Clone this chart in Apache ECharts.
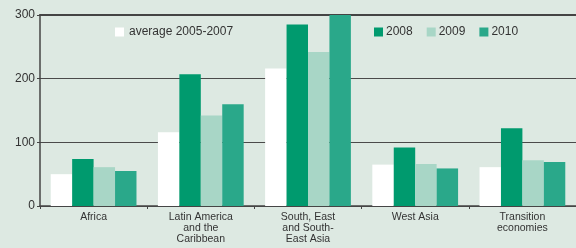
<!DOCTYPE html>
<html><head><meta charset="utf-8">
<script src="https://cdn.jsdelivr.net/npm/echarts@6/dist/echarts.min.js"></script>
<style>html,body{margin:0;padding:0;background:#dde9e2;}#c{width:576px;height:248px;}</style>
</head><body><div id="c"></div>
<script>
const categories = ['Africa', 'Latin America\nand the\nCaribbean', 'South, East\nand South-\nEast Asia', 'West Asia', 'Transition\neconomies'];
const avg0507 = [50, 116, 216, 65, 61];
const v2008 = [74, 207, 285, 92, 122];
const v2009 = [61, 142, 242, 66, 72];
const v2010 = [55, 160, 300, 59, 69];
const yTicks = [0, 100, 200, 300];

const chart = echarts.init(document.getElementById('c'));
const font = 'Liberation Sans, Arial, sans-serif';
function bar(name, data, color) {
  return {name, type: 'bar', data, barGap: '0%', barCategoryGap: '20%', itemStyle: {color}, animation: false};
}
chart.setOption({
  backgroundColor: '#dde9e2',
  animation: false,
  grid: {left: 40, right: -5, top: 15, bottom: 42},
  legend: [
    {data: ['average 2005-2007'], left: 110, top: 21, itemWidth: 9, itemHeight: 9, icon: 'rect', itemGap: 4,
     textStyle: {fontFamily: font, fontSize: 12, color: '#333'}},
    {data: ['2008', '2009', '2010'], left: 369, top: 21, itemWidth: 9, itemHeight: 9, icon: 'rect', itemGap: 14,
     textStyle: {fontFamily: font, fontSize: 12, color: '#333', padding: [0, 0, 0, -2]}}
  ],
  xAxis: [{
    type: 'category', data: categories,
    axisLine: {lineStyle: {color: '#444', width: 1.5}},
    axisTick: {show: true, length: 3, lineStyle: {color: '#444'}},
    axisLabel: {fontFamily: font, fontSize: 10.5, color: '#333', lineHeight: 11, margin: 6, interval: 0}
  }, {
    type: 'category', data: categories, position: 'top',
    axisLine: {show: true, lineStyle: {color: '#444', width: 2}},
    axisTick: {show: false}, axisLabel: {show: false}
  }],
  yAxis: {
    type: 'value', min: 0, max: 300, interval: 100,
    axisLine: {show: true, lineStyle: {color: '#444', width: 1.5}},
    axisTick: {show: true, length: 3, lineStyle: {color: '#444'}},
    axisLabel: {fontFamily: font, fontSize: 12, color: '#333', margin: 5,
      formatter: v => yTicks.includes(v) ? String(v) : ''},
    splitLine: {show: true, lineStyle: {color: '#4a4a4a', width: 1}}
  },
  series: [
    bar('average 2005-2007', avg0507, '#ffffff'),
    bar('2008', v2008, '#009a6e'),
    bar('2009', v2009, '#a8d6c6'),
    bar('2010', v2010, '#2aa88a')
  ]
});
</script></body></html>
